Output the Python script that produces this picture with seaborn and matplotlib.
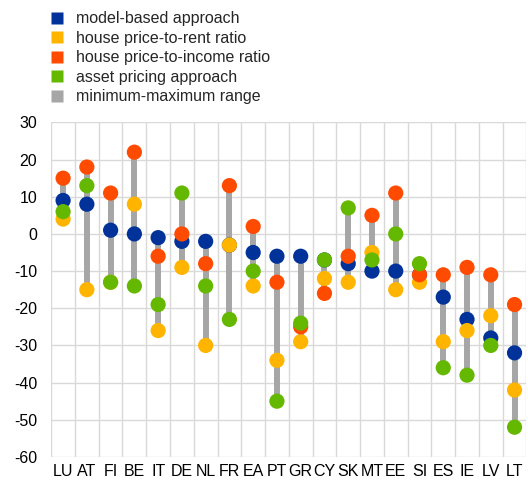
import matplotlib
matplotlib.use("Agg")
import matplotlib.pyplot as plt
from matplotlib.lines import Line2D
from matplotlib.ticker import FixedLocator
import numpy as np
import pandas as pd
import seaborn as sns

countries = ['LU', 'AT', 'FI', 'BE', 'IT', 'DE', 'NL', 'FR', 'EA', 'PT',
             'GR', 'CY', 'SK', 'MT', 'EE', 'SI', 'ES', 'IE', 'LV', 'LT']
model_based = [9, 8, 1, 0, -1, -2, -2, -3, -5, -6, -6, -7, -8, -10, -10, -11, -17, -23, -28, -32]
price_to_rent = [4, -15, -13, 8, -26, -9, -30, -3, -14, -34, -29, -12, -13, -5, -15, -13, -29, -26, -22, -42]
price_to_income = [15, 18, 11, 22, -6, 0, -8, 13, 2, -13, -25, -16, -6, 5, 11, -11, -11, -9, -11, -19]
asset_pricing = [6, 13, -13, -14, -19, 11, -14, -23, -10, -45, -24, -7, 7, -7, 0, -8, -36, -38, -30, -52]

labels = ['model-based approach', 'house price-to-rent ratio',
          'house price-to-income ratio', 'asset pricing approach',
          'minimum-maximum range']
colors = ['#003299', '#FFB400', '#FF4B00', '#65B800', '#A6A6A6']

sns.set_style('white')
plt.rcParams['font.family'] = ['Liberation Sans', 'DejaVu Sans']
plt.rcParams['axes.unicode_minus'] = False

wide = pd.DataFrame({'country': countries,
                     labels[0]: model_based,
                     labels[1]: price_to_rent,
                     labels[2]: price_to_income,
                     labels[3]: asset_pricing})
long = wide.melt(id_vars='country', var_name='measure', value_name='value')
lo = wide[labels[:4]].min(axis=1)
hi = wide[labels[:4]].max(axis=1)

fig = plt.figure(figsize=(5.28, 4.82), dpi=100)
ax = fig.add_axes([0.097, 0.052, 0.9, 0.694])

pos = np.arange(len(countries))
ax.vlines(pos, lo, hi, color=colors[4], linewidth=4.3, zorder=2)
sns.scatterplot(data=long, x='country', y='value', hue='measure',
                hue_order=labels[:4], palette=colors[:4], s=120,
                edgecolor='none', legend=False, ax=ax, zorder=3)

ax.set_xlim(-0.5, len(countries) - 0.5)
ax.set_ylim(-60, 30)
ax.set_yticks(range(-60, 31, 10))
ax.xaxis.set_minor_locator(FixedLocator(np.arange(-0.5, len(countries), 1)))
ax.grid(True, which='minor', axis='x', color='#D9D9D9', linewidth=1)
ax.grid(True, which='major', axis='y', color='#D9D9D9', linewidth=1)
ax.set_axisbelow(True)
for s in ax.spines.values():
    s.set_visible(False)
ax.tick_params(which='both', length=0, labelsize=11.5, colors='black')
ax.tick_params(axis='y', pad=10)
ax.tick_params(axis='x', pad=5)
ax.set_xlabel('')
ax.set_ylabel('')

handles = [Line2D([], [], linestyle='none', marker='s', markersize=8,
                  markerfacecolor=c, markeredgecolor='none') for c in colors]
fig.legend(handles, labels, loc='upper left', bbox_to_anchor=(0.083, 0.99),
           frameon=False, fontsize=11.5, handlelength=0.9, handletextpad=0.7,
           labelspacing=0.28, borderaxespad=0)

fig.savefig('out.png', dpi=100)
